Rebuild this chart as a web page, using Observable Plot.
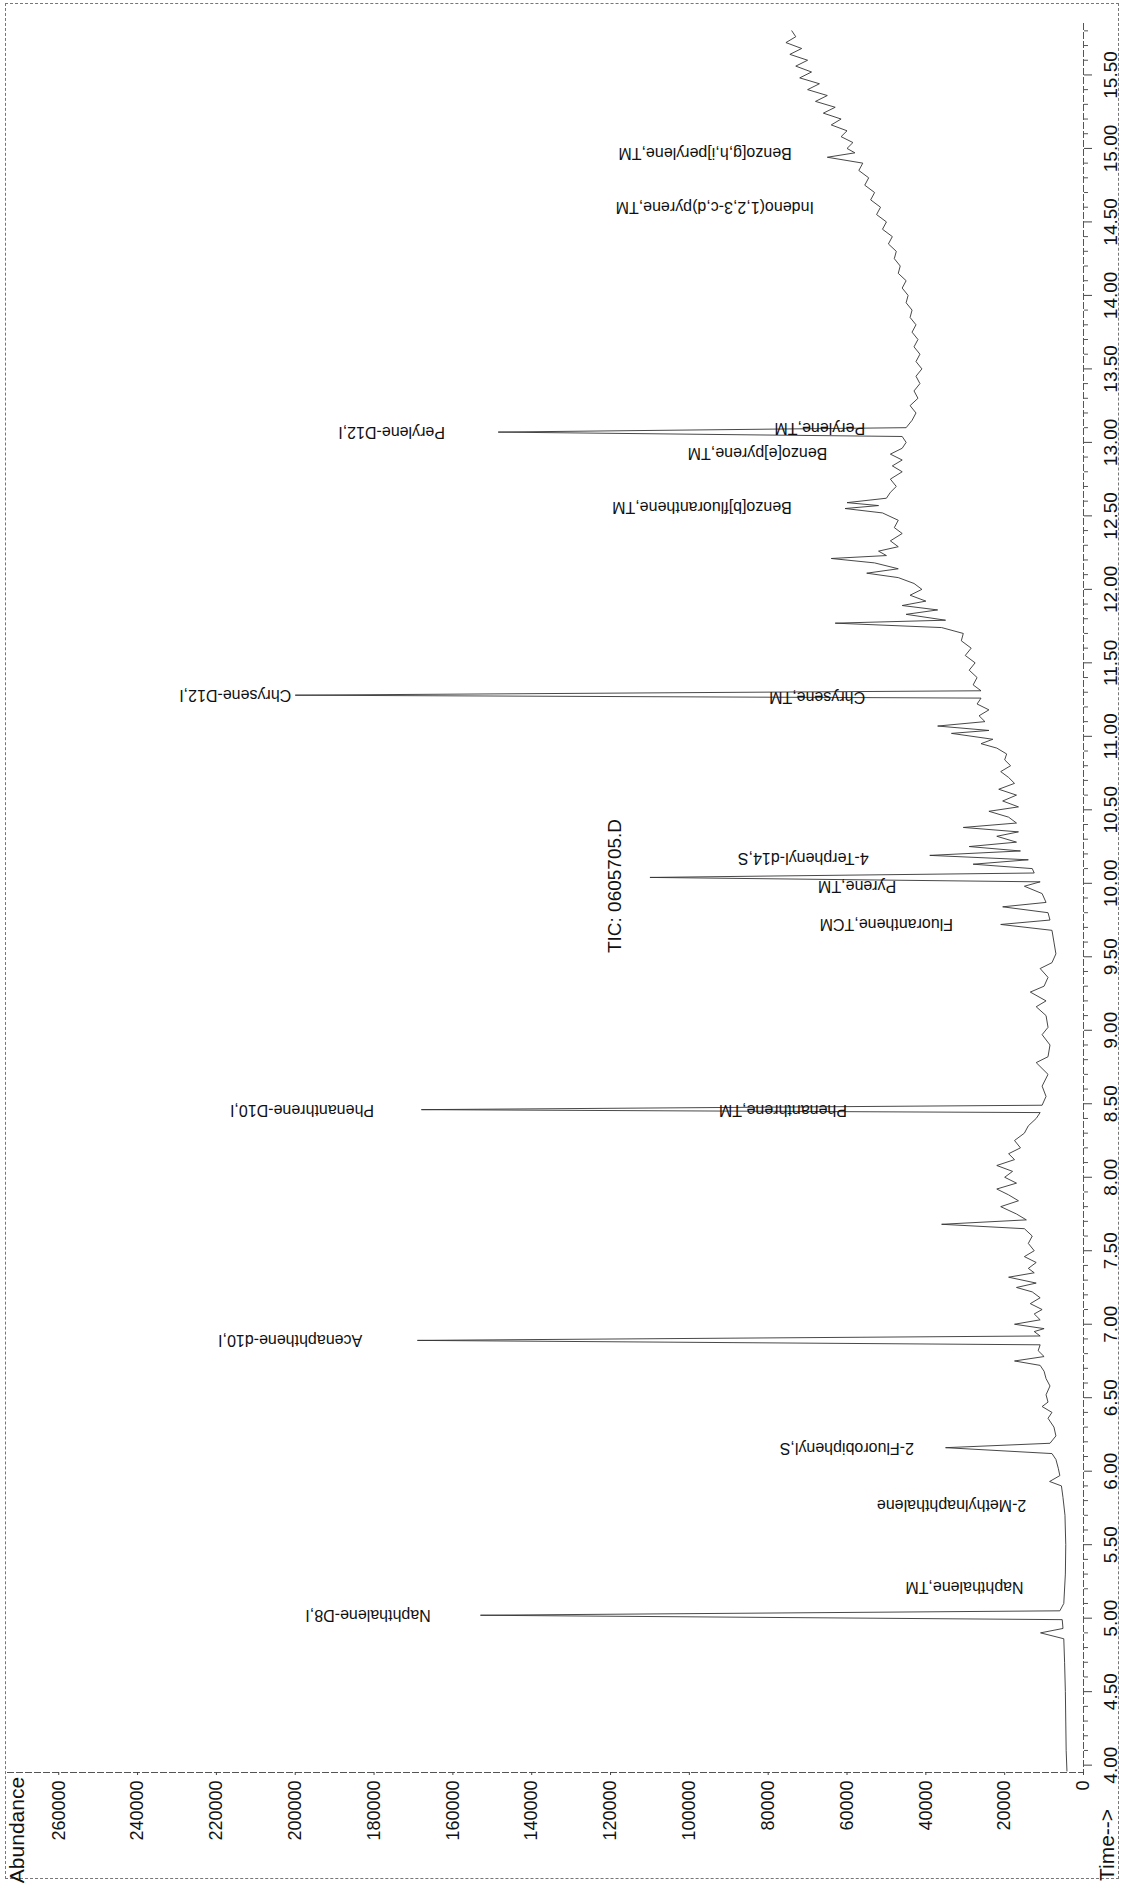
<!DOCTYPE html>
<html><head><meta charset="utf-8">
<script src="https://cdn.jsdelivr.net/npm/d3@7"></script>
<script src="https://cdn.jsdelivr.net/npm/@observablehq/plot@0.6"></script>
<style>
html,body{margin:0;padding:0;background:#fff;}
#wrap{position:relative;width:1125px;height:1891px;overflow:hidden;font-family:"Liberation Sans",Arial,sans-serif;color:#111;}
#border{position:absolute;left:5px;top:3px;width:1114px;height:1876px;border:1px dashed #777;box-sizing:border-box;}
.rot{position:absolute;transform:translate(-50%,-50%) rotate(-90deg);white-space:nowrap;}
#wrap svg{position:absolute;left:0;top:0;}
</style></head><body>
<div id="wrap"><div id="border"></div></div>
<script>
// ---- data ----
const title = "TIC: 0605705.D";
const abundanceTitle = "Abundance";
const timeTitle = "Time-->";
const abundanceTicks = [0, 20000, 40000, 60000, 80000, 100000, 120000, 140000, 160000, 180000, 200000, 220000, 240000, 260000];
const timeTicks = [4.0, 4.5, 5.0, 5.5, 6.0, 6.5, 7.0, 7.5, 8.0, 8.5, 9.0, 9.5, 10.0, 10.5, 11.0, 11.5, 12.0, 12.5, 13.0, 13.5, 14.0, 14.5, 15.0, 15.5];
const timeMinorTicks = [4.1,4.2,4.3,4.4,4.6,4.7,4.8,4.9,5.1,5.2,5.3,5.4,5.6,5.7,5.8,5.9,6.1,6.2,6.3,6.4,6.6,6.7,6.8,6.9,7.1,7.2,7.3,7.4,7.6,7.7,7.8,7.9,8.1,8.2,8.3,8.4,8.6,8.7,8.8,8.9,9.1,9.2,9.3,9.4,9.6,9.7,9.8,9.9,10.1,10.2,10.3,10.4,10.6,10.7,10.8,10.9,11.1,11.2,11.3,11.4,11.6,11.7,11.8,11.9,12.1,12.2,12.3,12.4,12.6,12.7,12.8,12.9,13.1,13.2,13.3,13.4,13.6,13.7,13.8,13.9,14.1,14.2,14.3,14.4,14.6,14.7,14.8,14.9,15.1,15.2,15.3,15.4,15.6,15.7,15.8];

// TIC trace: retention time (min) and abundance
const traceTime = [3.96,4.10,4.30,4.50,4.70,4.86,4.90,4.93,4.99,5.02,5.05,5.10,5.30,5.50,5.70,5.82,5.90,5.93,5.97,6.02,6.08,6.12,6.16,6.19,6.24,6.30,6.36,6.40,6.44,6.47,6.52,6.58,6.63,6.68,6.72,6.75,6.78,6.82,6.86,6.89,6.92,6.95,6.97,7.00,7.03,7.07,7.10,7.14,7.18,7.22,7.25,7.28,7.32,7.35,7.38,7.42,7.46,7.50,7.55,7.60,7.65,7.68,7.71,7.75,7.80,7.84,7.88,7.92,7.96,8.00,8.04,8.08,8.12,8.16,8.20,8.25,8.30,8.35,8.40,8.44,8.46,8.49,8.55,8.62,8.70,8.78,8.82,8.90,8.97,9.02,9.10,9.16,9.20,9.26,9.30,9.36,9.42,9.46,9.52,9.60,9.68,9.72,9.75,9.80,9.84,9.87,9.93,9.98,10.01,10.04,10.07,10.10,10.13,10.16,10.19,10.22,10.25,10.28,10.32,10.35,10.38,10.41,10.45,10.49,10.52,10.56,10.60,10.64,10.68,10.72,10.76,10.80,10.84,10.88,10.92,10.95,10.98,11.02,11.04,11.07,11.10,11.14,11.18,11.22,11.26,11.28,11.31,11.35,11.40,11.45,11.50,11.55,11.60,11.65,11.70,11.74,11.77,11.79,11.83,11.86,11.89,11.92,11.96,12.00,12.04,12.08,12.11,12.14,12.18,12.21,12.23,12.26,12.29,12.33,12.38,12.42,12.47,12.52,12.55,12.57,12.59,12.62,12.66,12.70,12.75,12.80,12.84,12.88,12.92,12.96,13.00,13.04,13.07,13.10,13.15,13.20,13.25,13.30,13.35,13.40,13.45,13.50,13.55,13.60,13.65,13.70,13.75,13.80,13.85,13.90,13.95,14.00,14.05,14.10,14.15,14.20,14.25,14.30,14.35,14.40,14.45,14.50,14.55,14.60,14.65,14.70,14.75,14.80,14.85,14.90,14.94,14.97,15.00,15.04,15.08,15.12,15.16,15.20,15.24,15.28,15.32,15.36,15.40,15.44,15.48,15.52,15.56,15.60,15.64,15.68,15.72,15.76,15.80,15.85];
const traceAbundance = [4200,4400,4500,4600,4800,5000,10900,5200,5400,153000,6000,5000,4600,4500,4700,5200,5600,8600,6000,6400,7000,8000,35000,8500,7000,7500,9000,8000,10500,9000,9500,8500,9500,10000,11000,17500,10000,11500,11000,169000,11000,12500,10000,17500,11000,12500,10500,13500,11000,13000,17000,12000,19000,12500,14000,12000,15000,12500,14000,13000,15000,36000,14500,17000,21000,16500,19000,22000,17000,20000,18000,22000,17500,19000,16000,17500,15000,14000,12000,11000,168000,10500,9500,10500,9000,12000,9000,8500,10500,9000,9500,12000,9500,13500,10000,9000,11000,8000,7000,7500,8000,21000,8500,9000,20500,9500,10500,15000,11000,110000,12500,13000,28000,14000,39000,16000,29000,17000,22000,16500,30500,17000,19000,24000,16500,20500,17000,21500,17500,19000,21000,18500,20000,19500,22000,26000,23000,33500,24000,37000,25000,26500,24000,27000,26000,200000,26000,28000,27000,29000,27500,30000,28500,31000,30500,36000,63000,35000,45000,37000,46000,40000,44000,41000,43000,47000,55000,47000,53000,64000,50000,52000,47000,49000,46000,48000,47000,51000,60500,52000,60000,50000,49000,47500,49000,46000,48500,46000,49000,46000,45000,46000,148500,45000,43500,42500,44000,42000,43000,41500,42500,41000,42500,41500,43000,42000,43500,42500,44000,43500,45000,44500,46000,45000,47000,46500,48000,47500,49500,48500,51000,50000,52500,51500,54000,53000,55500,54500,57000,56000,65000,58000,60000,58500,61500,60000,64000,61500,66000,63000,68000,65000,70000,67000,72000,69000,73000,70000,74500,71500,75500,73000,74000];

// compound labels: name, retention time, abundance where the label begins
const peakNames = ["Naphthalene-D8,I","Naphthalene,TM","2-Methylnaphthalene","2-Fluorobiphenyl,S","Acenaphthene-d10,I","Phenanthrene-D10,I","Phenanthrene,TM","Fluoranthene,TCM","Pyrene,TM","4-Terphenyl-d14,S","Chrysene-D12,I","Chrysene,TM","Benzo[b]fluoranthene,TM","Benzo[e]pyrene,TM","Perylene,TM","Perylene-D12,I","Indeno(1,2,3-c,d)pyrene,TM","Benzo[g,h,i]perylene,TM"];
const peakLabelTime = [5.02,5.21,5.77,6.16,6.89,8.46,8.46,9.72,9.98,10.17,11.28,11.27,12.56,12.93,13.10,13.07,14.60,14.97];
const peakLabelAbundance = [165600,15200,14500,43000,183000,180000,60000,33100,47500,54500,201000,55400,74000,65000,55400,162000,68400,74000];

// ---- build tables ----
const trace = traceTime.map((t, i) => ({t, A: traceAbundance[i]}));
const peaks = peakNames.map((name, i) => ({name, t: peakLabelTime[i], A: peakLabelAbundance[i]}));

const chart = Plot.plot({
  width: 1125,
  height: 1891,
  marginLeft: 7,
  marginRight: 42,
  marginTop: 23,
  marginBottom: 119,
  x: {domain: [0, 273000], reverse: true, axis: null},
  y: {domain: [3.95, 15.85], axis: null},
  style: {fontFamily: '"Liberation Sans", Arial, sans-serif', background: "transparent", color: "#111"},
  marks: [
    Plot.ruleX([0], {stroke: "#555", strokeDasharray: "7,2"}),
    Plot.ruleY([3.95], {stroke: "#555", strokeDasharray: "7,2"}),
    Plot.axisY(timeMinorTicks, {anchor: "right", label: null, tickSize: 4, tickFormat: () => "", stroke: "#555"}),
    Plot.axisY(timeTicks, {anchor: "right", label: null, tickSize: 8, tickPadding: 19, tickRotate: -90, textAnchor: "middle", lineAnchor: "middle", tickFormat: d => d.toFixed(2), fontSize: 19, stroke: "#444", fill: "#111"}),
    Plot.axisX(abundanceTicks, {anchor: "bottom", label: null, tickSize: 3, tickPadding: 5, tickRotate: -90, textAnchor: "end", lineAnchor: "middle", tickFormat: d => String(d), fontSize: 18, stroke: "#444", fill: "#111"}),
    Plot.line(trace, {x: "A", y: "t", stroke: "#333", strokeWidth: 0.9}),
    Plot.text(peaks, {x: "A", y: "t", text: "name", rotate: 180, textAnchor: "start", fontSize: 16, fill: "#111"})
  ]
});
const wrap = document.getElementById("wrap");
wrap.appendChild(chart);

function addRotated(text, left, top, size) {
  const d = document.createElement("div");
  d.className = "rot";
  d.textContent = text;
  d.style.left = left + "px";
  d.style.top = top + "px";
  d.style.fontSize = size + "px";
  wrap.appendChild(d);
}
addRotated(title, 615, 886, 19);
addRotated(abundanceTitle, 17, 1830, 21);
addRotated(timeTitle, 1107, 1845, 21);
</script>
</body></html>
